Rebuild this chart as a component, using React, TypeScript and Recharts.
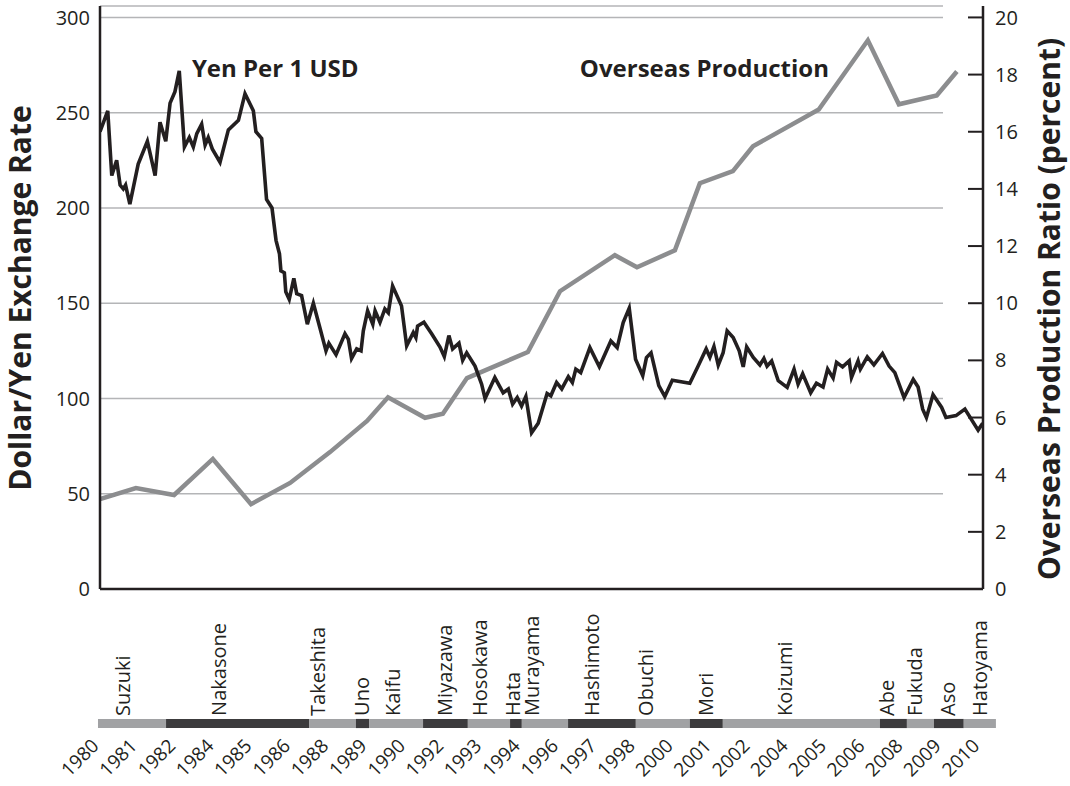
import { LineChart, Line, XAxis, YAxis, CartesianGrid, ReferenceArea, ReferenceDot } from 'recharts';

const INK = '#231f20';
const PROD_GRAY = '#8c8d8f';
const GRID = '#b4b5b7';
const BAND_LIGHT = '#a1a2a4';
const BAND_DARK = '#3c3b3d';
const FONT = '"Open Sans", "Noto Sans", sans-serif';

// yen per 1 USD
const RATE_YEARS = [
  1980.0, 1980.27, 1980.41, 1980.58, 1980.7, 1980.81, 1980.89, 1981.04, 1981.33, 1981.65,
  1981.92, 1982.09, 1982.29, 1982.44, 1982.61, 1982.76, 1982.94, 1983.11, 1983.25, 1983.37,
  1983.54, 1983.66, 1983.77, 1983.91, 1984.18, 1984.47, 1984.82, 1985.05, 1985.34, 1985.43,
  1985.63, 1985.8, 1985.99, 1986.13, 1986.25, 1986.3, 1986.42, 1986.47, 1986.59, 1986.75,
  1986.85, 1987.02, 1987.22, 1987.43, 1987.66, 1987.87, 1987.97, 1988.22, 1988.53, 1988.65,
  1988.76, 1988.94, 1989.09, 1989.17, 1989.32, 1989.5, 1989.58, 1989.75, 1989.92, 1990.04,
  1990.19, 1990.5, 1990.68, 1990.91, 1991.0, 1991.06, 1991.28, 1991.55, 1991.84, 1991.99,
  1992.15, 1992.28, 1992.5, 1992.63, 1992.77, 1993.06, 1993.29, 1993.41, 1993.75, 1994.04,
  1994.22, 1994.37, 1994.53, 1994.68, 1994.83, 1995.03, 1995.26, 1995.57, 1995.7, 1995.9,
  1996.08, 1996.31, 1996.45, 1996.57, 1996.74, 1997.06, 1997.39, 1997.79, 1998.01, 1998.22,
  1998.43, 1998.65, 1998.9, 1999.03, 1999.19, 1999.46, 1999.67, 1999.93, 2000.54, 2000.83,
  2001.11, 2001.24, 2001.38, 2001.53, 2001.7, 2001.84, 2002.05, 2002.26, 2002.4, 2002.52,
  2002.75, 2002.98, 2003.12, 2003.23, 2003.39, 2003.62, 2003.93, 2004.17, 2004.31, 2004.47,
  2004.75, 2004.95, 2005.18, 2005.34, 2005.53, 2005.65, 2005.86, 2006.09, 2006.17, 2006.4,
  2006.48, 2006.72, 2006.95, 2007.25, 2007.48, 2007.68, 2008.0, 2008.32, 2008.49, 2008.65,
  2008.78, 2009.01, 2009.31, 2009.46, 2009.81, 2010.12, 2010.58, 2010.74,
];
const RATE_VALUES = [
  240, 251, 217, 225, 212, 210, 212, 202, 223, 235,
  217, 245, 235, 255, 261, 272, 232, 237, 232, 239,
  244, 233, 237, 231, 224, 241, 246, 260, 251, 240,
  236.5, 204.5, 200, 183, 176, 167, 166, 156, 152, 163,
  155, 154, 139, 150, 137, 125, 129, 123, 134, 131,
  121, 126, 125, 135.5, 146, 139, 146, 140, 147, 145,
  159, 148.6, 127.6, 134.6, 132, 138, 140, 134, 127, 122,
  133, 126, 129, 120, 124, 117, 107.5, 100, 111, 103,
  105, 97, 100.5, 96, 101, 82, 87, 102.6, 101.4, 108.4,
  105, 111.4, 108.4, 115.4, 113.6, 126.7, 116.6, 130.2, 126.7, 139.8,
  147.4, 120.6, 112, 121.5, 124, 106.7, 101, 109.6, 108, 117,
  126, 121.6, 127.3, 117.5, 124, 135.5, 132, 125, 116.6, 127,
  121.5, 117.6, 121, 117, 119.7, 109.3, 105.8, 115.4, 107.5, 113,
  103, 108, 106, 115.4, 110.7, 119, 116.6, 119.7, 111, 119.7,
  115.4, 121.8, 117.6, 123.6, 117, 113.6, 100.5, 110, 106, 94.4,
  90, 102, 95.3, 90, 91, 94.4, 83.4, 87,
];

// overseas production ratio (percent)
const PROD_YEARS = [
  1980.0, 1981.25, 1982.58, 1983.93, 1985.26, 1986.62, 1988.01, 1989.3, 1990.03, 1991.32,
  1991.94, 1992.78, 1994.9, 1996.02, 1997.93, 1998.7, 2000.02, 2000.89, 2002.04, 2002.74,
  2005.03, 2006.74, 2007.82, 2009.14, 2009.84,
];
const PROD_RATIO = [
  3.15, 3.53, 3.29, 4.55, 2.97, 3.71, 4.79, 5.88, 6.71, 5.99,
  6.13, 7.38, 8.29, 10.42, 11.68, 11.26, 11.85, 14.2, 14.62, 15.49,
  16.78, 19.2, 16.96, 17.27, 18.11,
];

const YEAR_TICKS = [
  1980, 1981.33, 1982.67, 1984, 1985.33, 1986.67, 1988, 1989.33, 1990.67, 1992, 1993.33, 1994.67,
  1996, 1997.33, 1998.67, 2000, 2001.33, 2002.67, 2004, 2005.33, 2006.67, 2008, 2009.33, 2010.67,
];
const YEAR_LABELS = [
  '1980', '1981', '1982', '1984', '1985', '1986', '1988', '1989', '1990', '1992', '1993', '1994',
  '1996', '1997', '1998', '2000', '2001', '2002', '2004', '2005', '2006', '2008', '2009', '2010',
];

const PM_NAMES = [
  'Suzuki', 'Nakasone', 'Takeshita', 'Uno', 'Kaifu', 'Miyazawa', 'Hosokawa', 'Hata', 'Murayama',
  'Hashimoto', 'Obuchi', 'Mori', 'Koizumi', 'Abe', 'Fukuda', 'Aso', 'Hatoyama',
];
const PM_FROM = [
  1979.93, 1982.3, 1987.28, 1988.91, 1989.37, 1991.25, 1992.81, 1994.28, 1994.69,
  1996.3, 1998.66, 2000.54, 2001.69, 2007.16, 2008.1, 2009.04, 2010.08,
];
const PM_TO = [
  1982.3, 1987.28, 1988.91, 1989.37, 1991.25, 1992.81, 1994.28, 1994.69, 1996.3,
  1998.66, 2000.54, 2001.69, 2007.16, 2008.1, 2009.04, 2010.08, 2011.2,
];
const PM_LABEL_AT = [
  1980.77, 1984.11, 1987.59, 1989.12, 1990.17, 1992.01, 1993.23, 1994.38, 1995.04,
  1997.13, 1998.98, 2001.07, 2003.85, 2007.4, 2008.38, 2009.53, 2010.64,
];

const LEFT_TICKS = [0, 50, 100, 150, 200, 250, 300];
const RIGHT_TICKS = [0, 2, 4, 6, 8, 10, 12, 14, 16, 18, 20];

const rateData = RATE_YEARS.map((year, i) => ({ year, rate: RATE_VALUES[i] }));
const prodData = PROD_YEARS.map((year, i) => ({ year, ratio: PROD_RATIO[i] }));

// the PM strip sits below the plot, in left-axis units
const BAND_TOP = -68.2;
const BAND_BOTTOM = -73;
const NAME_BASE = -66.6;

function YearTick({ x, y, payload }: any) {
  const label = YEAR_LABELS[YEAR_TICKS.indexOf(payload.value)];
  return (
    <text x={x} y={y} transform={`rotate(-45 ${x} ${y})`} textAnchor="end" fontSize={19} fill={INK}>
      {label}
    </text>
  );
}

function gridLine(p: any) {
  // grid stops short of the right axis
  return <line key={p.key} x1={p.x1} x2={p.x2 - 40} y1={p.y1} y2={p.y2} stroke={GRID} strokeWidth={1.6} />;
}

function nameShape(name: string) {
  return (p: any) => (
    <text
      x={p.cx}
      y={p.cy}
      transform={`rotate(-90 ${p.cx} ${p.cy})`}
      dominantBaseline="central"
      fontSize={20}
      fill={INK}
    >
      {name}
    </text>
  );
}

function noteShape(text: string) {
  return (p: any) => (
    <text x={p.cx} y={p.cy} fontSize={24} fontWeight={700} fill={INK}>
      {text}
    </text>
  );
}

export default function App() {
  return (
    <div style={{ position: 'absolute', left: 0, top: 0, background: '#fff', fontFamily: FONT }}>
      <LineChart width={1070} height={786} margin={{ top: 6, right: 0, bottom: 0, left: 0 }} style={{ fontFamily: FONT }}>
        <CartesianGrid yAxisId="left" vertical={false} horizontal={gridLine} />
        <XAxis
          dataKey="year"
          type="number"
          domain={[1980, 2010.75]}
          allowDataOverflow
          ticks={YEAR_TICKS}
          interval={0}
          tick={<YearTick />}
          tickLine={false}
          tickSize={0}
          tickMargin={158}
          height={197}
          axisLine={{ stroke: INK, strokeWidth: 2.5 }}
        />
        <YAxis
          yAxisId="left"
          width={100}
          domain={[0, 306]}
          ticks={LEFT_TICKS}
          interval={0}
          tickLine={false}
          tickSize={0}
          tickMargin={10}
          tick={{ fill: INK, fontSize: 20 }}
          axisLine={{ stroke: INK, strokeWidth: 2.5 }}
          label={() => (
            <text x={19} y={298} transform="rotate(-90 19 298)" textAnchor="middle" dominantBaseline="central" fontSize={30} fontWeight={700} fill={INK}>
              Dollar/Yen Exchange Rate
            </text>
          )}
        />
        <YAxis
          yAxisId="right"
          orientation="right"
          width={87}
          domain={[0, 20.4]}
          ticks={RIGHT_TICKS}
          interval={0}
          tickSize={-15}
          tickMargin={27}
          tickLine={{ stroke: INK, strokeWidth: 2 }}
          tick={{ fill: INK, fontSize: 20 }}
          axisLine={{ stroke: INK, strokeWidth: 2.5 }}
          label={() => (
            <text x={1048} y={309} transform="rotate(-90 1048 309)" textAnchor="middle" dominantBaseline="central" fontSize={30} fontWeight={700} fill={INK}>
              Overseas Production Ratio (percent)
            </text>
          )}
        />

        {PM_NAMES.map((name, i) => (
          <ReferenceArea
            key={`band-${name}`}
            yAxisId="left"
            x1={PM_FROM[i]}
            x2={PM_TO[i]}
            y1={BAND_TOP}
            y2={BAND_BOTTOM}
            fill={i % 2 ? BAND_DARK : BAND_LIGHT}
            fillOpacity={1}
            stroke="none"
            ifOverflow="visible"
          />
        ))}
        {PM_NAMES.map((name, i) => (
          <ReferenceDot
            key={`name-${name}`}
            yAxisId="left"
            x={PM_LABEL_AT[i]}
            y={NAME_BASE}
            r={0}
            ifOverflow="visible"
            shape={nameShape(name)}
          />
        ))}

        <ReferenceDot yAxisId="left" x={1983.2} y={268.8} r={0} ifOverflow="visible" shape={noteShape('Yen Per 1 USD')} />
        <ReferenceDot yAxisId="left" x={1996.71} y={268.8} r={0} ifOverflow="visible" shape={noteShape('Overseas Production')} />

        <Line
          yAxisId="right"
          data={prodData}
          dataKey="ratio"
          stroke={PROD_GRAY}
          strokeWidth={4.5}
          dot={false}
          isAnimationActive={false}
        />
        <Line
          yAxisId="left"
          data={rateData}
          dataKey="rate"
          stroke={INK}
          strokeWidth={3.6}
          dot={false}
          isAnimationActive={false}
        />
      </LineChart>
    </div>
  );
}
